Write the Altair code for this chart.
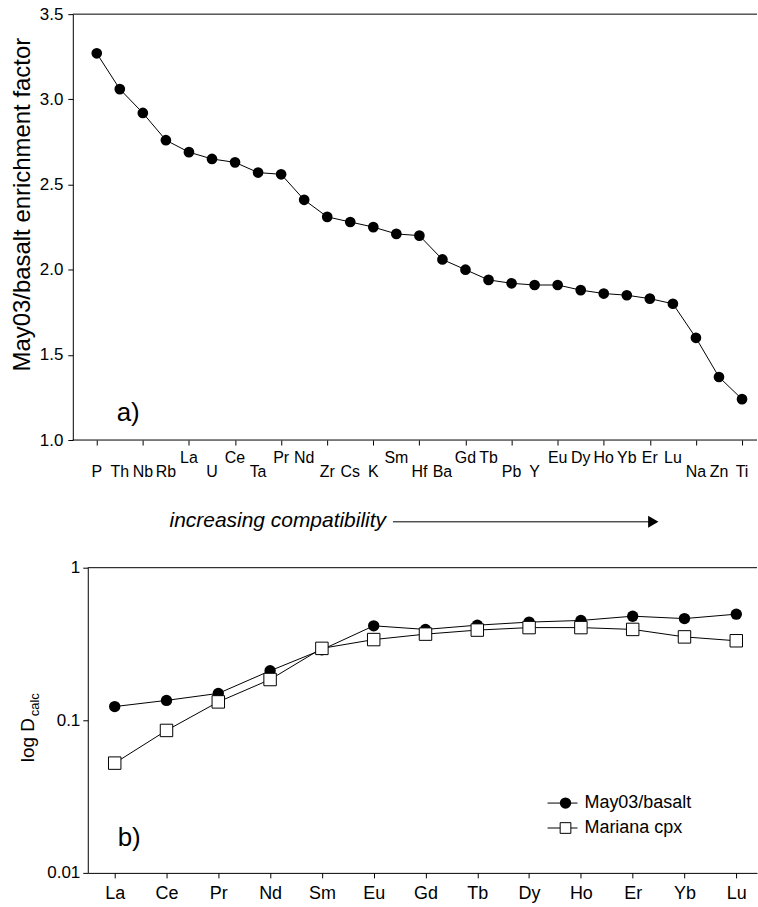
import json
import altair as alt
import pandas as pd

# ---------------- data ----------------
elements_a = ["P", "Th", "Nb", "Rb", "La", "U", "Ce", "Ta", "Pr", "Nd", "Zr", "Cs", "K", "Sm",
              "Hf", "Ba", "Gd", "Tb", "Pb", "Y", "Eu", "Dy", "Ho", "Yb", "Er", "Lu", "Na", "Zn", "Ti"]
enrichment = [3.27, 3.06, 2.92, 2.76, 2.69, 2.65, 2.63, 2.57, 2.56, 2.41, 2.31, 2.28, 2.25, 2.21,
              2.20, 2.06, 2.00, 1.94, 1.92, 1.91, 1.91, 1.88, 1.86, 1.85, 1.83, 1.80, 1.60, 1.37, 1.24]
raised_labels = ["La", "Ce", "Pr", "Nd", "Sm", "Gd", "Tb", "Eu", "Dy", "Ho", "Yb", "Er", "Lu"]

ree = ["La", "Ce", "Pr", "Nd", "Sm", "Eu", "Gd", "Tb", "Dy", "Ho", "Er", "Yb", "Lu"]
d_may03 = [0.123, 0.135, 0.150, 0.211, 0.290, 0.416, 0.394, 0.420, 0.440, 0.451, 0.481, 0.464, 0.496]
d_mariana = [0.0524, 0.0858, 0.132, 0.185, 0.296, 0.338, 0.367, 0.390, 0.405, 0.405, 0.394, 0.352, 0.332]
series_names = ["May03/basalt", "Mariana cpx"]

FONT = "Liberation Sans"
one = pd.DataFrame({"k": [0]})

# ---------------- panel a ----------------
WA, HA = 671, 427
dfa = pd.DataFrame({
    "i": list(range(len(elements_a))),
    "el": elements_a,
    "v": enrichment,
    "row": ["up" if e in raised_labels else "down" for e in elements_a],
})
xa = alt.X("i:Q", scale=alt.Scale(domain=[-0.39, 28.65], nice=False, zero=False),
           axis=alt.Axis(values=list(range(len(elements_a))), labels=False, domain=False,
                         ticks=True, tickSize=5, grid=False, title=None))
ya = alt.Y("v:Q", scale=alt.Scale(domain=[1.0, 3.5], nice=False, zero=False),
           axis=alt.Axis(values=[1.0, 1.5, 2.0, 2.5, 3.0, 3.5], format=".1f", offset=15,
                         tickSize=5, labelFontSize=17, labelPadding=5, grid=False, title=None))
base_a = alt.Chart(dfa)
line_a = base_a.mark_line(color="black", strokeWidth=1).encode(x=xa, y=ya)
pts_a = base_a.mark_point(filled=True, color="black", size=115, opacity=1).encode(x="i:Q", y="v:Q")
lab_up = base_a.transform_filter("datum.row == 'up'").mark_text(
    fontSize=16, baseline="middle", color="black").encode(x="i:Q", y=alt.value(HA + 18), text="el:N")
lab_dn = base_a.transform_filter("datum.row == 'down'").mark_text(
    fontSize=16, baseline="middle", color="black").encode(x="i:Q", y=alt.value(HA + 32), text="el:N")
top_a = alt.Chart(one).mark_rule(color="black", strokeWidth=1).encode(
    x=alt.value(-15), x2=alt.value(WA), y=alt.value(0))
bot_a = alt.Chart(one).mark_rule(color="black", strokeWidth=1).encode(
    x=alt.value(-15), x2=alt.value(WA), y=alt.value(HA))
title_a = alt.Chart(one).mark_text(text="May03/basalt enrichment factor", angle=270, fontSize=24,
                                   align="center", baseline="middle", color="black").encode(
    x=alt.value(-65), y=alt.value(191))
tag_a = alt.Chart(one).mark_text(text="a)", fontSize=26, align="left", baseline="middle",
                                 color="black").encode(x=alt.value(29), y=alt.value(400))
arrow_txt = alt.Chart(one).mark_text(text="increasing compatibility", fontSize=21, fontStyle="italic",
                                     align="left", baseline="middle", color="black").encode(
    x=alt.value(82), y=alt.value(508))
arrow_line = alt.Chart(one).mark_rule(color="black", strokeWidth=1).encode(
    x=alt.value(306), x2=alt.value(567), y=alt.value(509))
arrow_head = alt.Chart(one).mark_point(shape="triangle-right", filled=True, color="black",
                                       size=144, opacity=1).encode(x=alt.value(567), y=alt.value(509))

panel_a = alt.layer(line_a, pts_a, lab_up, lab_dn, top_a, bot_a, title_a, tag_a,
                    arrow_txt, arrow_line, arrow_head).properties(width=WA, height=HA)

# ---------------- panel b ----------------
WB, HB = 671, 306
rows = []
for name, vals in zip(series_names, [d_may03, d_mariana]):
    for i, (el, v) in enumerate(zip(ree, vals)):
        rows.append({"i": i, "el": el, "series": name, "v": v})
dfb = pd.DataFrame(rows)

label_expr = json.dumps(ree) + "[datum.value]"
xb = alt.X("i:Q", scale=alt.Scale(domain=[-0.52, 12.40], nice=False, zero=False),
           axis=alt.Axis(values=list(range(len(ree))), labelExpr=label_expr, tickSize=5,
                         labelFontSize=18, labelPadding=7, grid=False, title=None))
yb = alt.Y("v:Q", scale=alt.Scale(type="log", domain=[0.01, 1], nice=False),
           axis=alt.Axis(values=[0.01, 0.1, 1], format="~g", tickSize=5, labelFontSize=17,
                         labelPadding=3, grid=False, title=None))
base_b = alt.Chart(dfb)
line_b = base_b.mark_line(color="black", strokeWidth=1).encode(x=xb, y=yb, detail="series:N")
circ_b = base_b.transform_filter(alt.datum.series == series_names[0]).mark_point(
    shape="circle", filled=True, color="black", size=130, opacity=1).encode(x="i:Q", y="v:Q")
sq_b = base_b.transform_filter(alt.datum.series == series_names[1]).mark_point(
    shape="square", filled=True, fill="white", stroke="black", strokeWidth=1, size=156,
    opacity=1).encode(x="i:Q", y="v:Q")
top_b = alt.Chart(one).mark_rule(color="black", strokeWidth=1).encode(
    x=alt.value(0), x2=alt.value(WB), y=alt.value(0))
tag_b = alt.Chart(one).mark_text(text="b)", fontSize=26, align="left", baseline="middle",
                                 color="black").encode(x=alt.value(30), y=alt.value(271))
ylab_b1 = alt.Chart(one).mark_text(text="log D", angle=270, fontSize=19, align="left",
                                   baseline="middle", color="black").encode(
    x=alt.value(-60), y=alt.value(195))
ylab_b2 = alt.Chart(one).mark_text(text="calc", angle=270, fontSize=13, align="left",
                                   baseline="middle", color="black").encode(
    x=alt.value(-53), y=alt.value(149))

legend_layers = []
leg_rows = [236, 261]
for k, name in enumerate(series_names):
    ly = leg_rows[k]
    legend_layers.append(alt.Chart(one).mark_rule(color="black", strokeWidth=1).encode(
        x=alt.value(461), x2=alt.value(491), y=alt.value(ly)))
    if k == 0:
        legend_layers.append(alt.Chart(one).mark_point(shape="circle", filled=True, color="black",
                                                       size=130, opacity=1).encode(
            x=alt.value(479), y=alt.value(ly)))
    else:
        legend_layers.append(alt.Chart(one).mark_point(shape="square", filled=True, fill="white",
                                                       stroke="black", strokeWidth=1, size=115,
                                                       opacity=1).encode(
            x=alt.value(479), y=alt.value(ly)))
    legend_layers.append(alt.Chart(one).mark_text(text=name, fontSize=18, align="left",
                                                  baseline="middle", color="black").encode(
        x=alt.value(498), y=alt.value(ly)))

panel_b = alt.layer(line_b, circ_b, sq_b, top_b, tag_b, ylab_b1, ylab_b2,
                    *legend_layers).properties(width=WB, height=HB)

chart = alt.vconcat(panel_a, panel_b, spacing=28).configure(font=FONT).configure_view(
    stroke=None).configure_axis(domainColor="black", tickColor="black", labelColor="black",
                                labelFont=FONT, domainWidth=1, tickWidth=1).properties(
    padding={"left": 10, "top": 4, "right": 0, "bottom": 0})

chart.save("out.html", embed_options={"renderer": "svg", "actions": False})
